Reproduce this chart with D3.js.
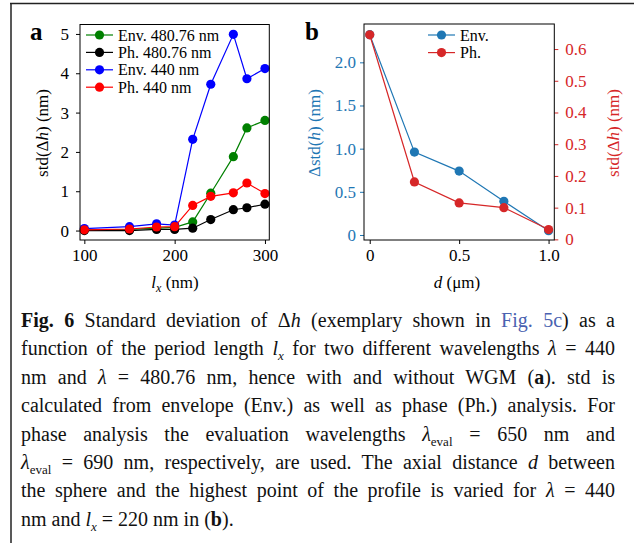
<!DOCTYPE html>
<meta charset="utf-8" />
<script src="https://d3js.org/d3.v7.min.js"></script>
<style>
  body { margin: 0; background: #fff; }
  #wrap { position: relative; width: 634px; height: 543px; overflow: hidden; }
  svg { position: absolute; left: 0; top: 0; }
  svg text { font-family: "Liberation Serif", "Times New Roman", Tinos, Times, serif; }
  #caption {
    position: absolute; left: 21px; top: 306px; width: 594px;
    font-family: "Liberation Serif", "Times New Roman", Tinos, Times, serif;
    font-size: 20px; color: #111;
  }
  #caption div { height: 28.4px; line-height: 28.4px; white-space: nowrap;
    text-align: justify; text-align-last: justify; }
  #caption div.last { text-align: left; text-align-last: left; }
  #caption sub { font-size: 13px; line-height: 0; }
  .link { color: #4a62b0; }
</style>
<div id="wrap">
  <svg id="chart" width="634" height="543"></svg>
  <div id="caption">
    <div><b>Fig. 6</b> Standard deviation of Δ<i>h</i> (exemplary shown in <span class="link">Fig. 5c</span>) as a</div>
    <div>function of the period length <i>l</i><sub><i>x</i></sub> for two different wavelengths <i>λ</i> = 440</div>
    <div>nm and <i>λ</i> = 480.76 nm, hence with and without WGM (<b>a</b>). std is</div>
    <div>calculated from envelope (Env.) as well as phase (Ph.) analysis. For</div>
    <div>phase analysis the evaluation wavelengths <i>λ</i><sub>eval</sub> = 650 nm and</div>
    <div><i>λ</i><sub>eval</sub> = 690 nm, respectively, are used. The axial distance <i>d</i> between</div>
    <div>the sphere and the highest point of the profile is varied for <i>λ</i> = 440</div>
    <div class="last">nm and <i>l</i><sub><i>x</i></sub> = 220 nm in (<b>b</b>).</div>
  </div>
</div>

<script>
  // data, panel a
  var lx = [100, 150, 180, 200, 220, 240, 265, 280, 300];
  var envA480 = [0.02, 0.03, 0.06, 0.08, 0.22, 0.95, 1.88, 2.61, 2.80];
  var phA480 = [0.00, 0.00, 0.03, 0.03, 0.06, 0.28, 0.53, 0.58, 0.67];
  var envA440 = [0.05, 0.10, 0.17, 0.14, 2.32, 3.72, 4.99, 3.86, 4.12];
  var phA440 = [0.02, 0.04, 0.09, 0.10, 0.64, 0.87, 0.96, 1.21, 0.94];
  var seriesA = ["Env. 480.76 nm", "Ph. 480.76 nm", "Env. 440 nm", "Ph. 440 nm"];

  // data, panel b
  var dist = [0, 0.25, 0.5, 0.75, 1.0];
  var envB = [2.32, 0.96, 0.74, 0.39, 0.05];
  var phB = [0.645, 0.181, 0.115, 0.100, 0.031];
  var seriesB = ["Env.", "Ph."];

  var xTicksA = [100, 200, 300];
  var yTicksA = [0, 1, 2, 3, 4, 5];
  var xTicksB = [0, 0.5, 1.0];
  var yTicksBL = [0, 0.5, 1.0, 1.5, 2.0];
  var yTicksBR = [0, 0.1, 0.2, 0.3, 0.4, 0.5, 0.6];

  var tabBlue = "#1f77b4", tabRed = "#d62728";

  var svg = d3.select("#chart");

  // frame around the figure
  svg.append("line").attr("x1", 10).attr("x2", 634).attr("y1", 3.5).attr("y2", 3.5)
    .attr("stroke", "#222").attr("stroke-width", 1.5);
  svg.append("line").attr("x1", 11).attr("x2", 11).attr("y1", 3).attr("y2", 543)
    .attr("stroke", "#222").attr("stroke-width", 1.5);

  function fmt(d) { return d === 0 ? "0" : d3.format(".1f")(d); }

  function styleAxis(g, color) {
    g.select(".domain").remove();
    g.selectAll("text").attr("font-family", null).attr("font-size", 17).attr("fill", color || "#000");
    g.selectAll("line").attr("stroke", color || "#000");
  }

  function drawSeries(g, xs, ys, x, y, color) {
    var pts = xs.map(function(d, i) { return [d, ys[i]]; });
    g.append("path").datum(pts)
      .attr("fill", "none").attr("stroke", color).attr("stroke-width", 1.2)
      .attr("d", d3.line().x(function(d) { return x(d[0]); }).y(function(d) { return y(d[1]); }));
    g.selectAll(null).data(pts).enter().append("circle")
      .attr("cx", function(d) { return x(d[0]); })
      .attr("cy", function(d) { return y(d[1]); })
      .attr("r", 4.6).attr("fill", color);
  }

  function legend(g, names, colors, x0, y0, dy) {
    names.forEach(function(n, i) {
      var yy = y0 + i * dy;
      g.append("line").attr("x1", x0).attr("x2", x0 + 27).attr("y1", yy).attr("y2", yy)
        .attr("stroke", colors[i]).attr("stroke-width", 1.2);
      g.append("circle").attr("cx", x0 + 13.5).attr("cy", yy).attr("r", 4.6).attr("fill", colors[i]);
      g.append("text").attr("x", x0 + 32).attr("y", yy + 5.5)
        .attr("font-size", 16).text(n);
    });
  }

  // ---------- panel a ----------
  var xA = d3.scaleLinear().domain([95.2, 304.8]).range([80, 269.3]);
  var yA = d3.scaleLinear().domain([-0.24, 5.24]).range([240, 24.5]);
  var gA = svg.append("g");

  gA.append("g").attr("transform", "translate(0,240)")
    .call(d3.axisBottom(xA).tickValues(xTicksA).tickFormat(d3.format("d")).tickSize(4).tickPadding(5))
    .call(styleAxis);
  gA.append("g").attr("transform", "translate(80,0)")
    .call(d3.axisLeft(yA).tickValues(yTicksA).tickFormat(d3.format("d")).tickSize(4).tickPadding(7))
    .call(styleAxis);

  var colorsA = ["#008000", "#000000", "#0000ff", "#ff0000"];
  [envA480, phA480, envA440, phA440].forEach(function(s, i) {
    drawSeries(gA, lx, s, xA, yA, colorsA[i]);
  });
  gA.append("rect").attr("x", 80).attr("y", 24.5).attr("width", 189.3).attr("height", 215.5)
    .attr("fill", "none").attr("stroke", "#000").attr("stroke-width", 1);
  legend(gA, seriesA, colorsA, 86, 35, 17.4);

  gA.append("text").attr("x", 30).attr("y", 40)
    .attr("font-size", 25).attr("font-weight", "bold").text("a");

  var labA = gA.append("text").attr("transform", "translate(48,133) rotate(-90)")
    .attr("text-anchor", "middle").attr("font-size", 17);
  labA.append("tspan").text("std(Δ");
  labA.append("tspan").attr("font-style", "italic").text("h");
  labA.append("tspan").text(") (nm)");

  var xlA = gA.append("text").attr("x", 175).attr("y", 288)
    .attr("text-anchor", "middle").attr("font-size", 17);
  xlA.append("tspan").attr("font-style", "italic").text("l");
  xlA.append("tspan").attr("font-style", "italic").attr("font-size", 12).attr("dy", 4).text("x");
  xlA.append("tspan").attr("dy", -4).text(" (nm)");

  // ---------- panel b ----------
  var xB = d3.scaleLinear().domain([-0.032, 1.032]).range([364, 554.3]);
  var yBL = d3.scaleLinear().domain([-0.058, 2.444]).range([240, 24]);
  var yBR = d3.scaleLinear().domain([-0.002, 0.679]).range([240, 24]);
  var gB = svg.append("g");

  gB.append("g").attr("transform", "translate(0,240)")
    .call(d3.axisBottom(xB).tickValues(xTicksB).tickFormat(fmt).tickSize(4).tickPadding(5))
    .call(styleAxis);
  gB.append("g").attr("transform", "translate(364,0)")
    .call(d3.axisLeft(yBL).tickValues(yTicksBL).tickFormat(fmt).tickSize(4).tickPadding(4))
    .call(styleAxis, tabBlue);
  gB.append("g").attr("transform", "translate(554.3,0)")
    .call(d3.axisRight(yBR).tickValues(yTicksBR).tickFormat(fmt).tickSize(4).tickPadding(7))
    .call(styleAxis, tabRed);

  drawSeries(gB, dist, envB, xB, yBL, tabBlue);
  drawSeries(gB, dist, phB, xB, yBR, tabRed);
  gB.append("rect").attr("x", 364).attr("y", 24).attr("width", 190.3).attr("height", 216)
    .attr("fill", "none").attr("stroke", "#000").attr("stroke-width", 1);
  legend(gB, seriesB, [tabBlue, tabRed], 428, 35, 17.6);

  gB.append("text").attr("x", 305).attr("y", 40)
    .attr("font-size", 25).attr("font-weight", "bold").text("b");

  var labBL = gB.append("text").attr("transform", "translate(320,133) rotate(-90)")
    .attr("text-anchor", "middle").attr("font-size", 17).attr("fill", tabBlue);
  labBL.append("tspan").text("Δstd(");
  labBL.append("tspan").attr("font-style", "italic").text("h");
  labBL.append("tspan").text(") (nm)");

  var labBR = gB.append("text").attr("transform", "translate(619,133) rotate(-90)")
    .attr("text-anchor", "middle").attr("font-size", 17).attr("fill", tabRed);
  labBR.append("tspan").text("std(Δ");
  labBR.append("tspan").attr("font-style", "italic").text("h");
  labBR.append("tspan").text(") (nm)");

  var xlB = gB.append("text").attr("x", 457).attr("y", 288)
    .attr("text-anchor", "middle").attr("font-size", 17);
  xlB.append("tspan").attr("font-style", "italic").text("d");
  xlB.append("tspan").text(" (μm)");
</script>
